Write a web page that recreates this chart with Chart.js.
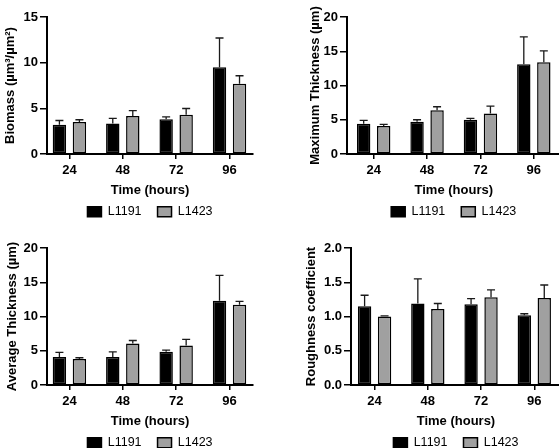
<!DOCTYPE html>
<html>
<head>
<meta charset="utf-8">
<script src="https://cdn.jsdelivr.net/npm/chart.js@4.4.1/dist/chart.umd.min.js"></script>
<style>
  html, body { margin: 0; padding: 0; background: #fff; width: 559px; height: 448px; overflow: hidden; }
  canvas { position: absolute; }
</style>
</head>
<body>
<canvas id="biomass" width="280" height="228" style="left:0;top:0"></canvas>
<canvas id="maxThick" width="300" height="228" style="left:280px;top:0"></canvas>
<canvas id="avgThick" width="280" height="228" style="left:0;top:231px"></canvas>
<canvas id="rough" width="300" height="228" style="left:280px;top:231px"></canvas>
<script>
const hours = ["24", "48", "72", "96"];
const strains = ["L1191", "L1423"];

// values (mean + upper SD)
const biomassL1191 = [3.2, 3.35, 3.8, 9.5];
const biomassL1191Err = [0.47, 0.55, 0.27, 3.2];
const biomassL1423 = [3.5, 4.15, 4.3, 7.7];
const biomassL1423Err = [0.25, 0.6, 0.68, 0.87];

const maxThickL1191 = [4.4, 4.7, 5.0, 13.1];
const maxThickL1191Err = [0.5, 0.3, 0.2, 4.0];
const maxThickL1423 = [4.1, 6.4, 5.9, 13.4];
const maxThickL1423Err = [0.22, 0.5, 1.1, 1.65];

const avgThickL1191 = [4.1, 4.1, 4.85, 12.3];
const avgThickL1191Err = [0.65, 0.75, 0.25, 3.7];
const avgThickL1423 = [3.8, 6.05, 5.75, 11.7];
const avgThickL1423Err = [0.18, 0.45, 0.9, 0.5];

const roughL1191 = [1.15, 1.19, 1.18, 1.02];
const roughL1191Err = [0.16, 0.36, 0.08, 0.02];
const roughL1423 = [1.0, 1.11, 1.28, 1.27];
const roughL1423Err = [0.01, 0.08, 0.11, 0.19];

const FONT = "'Liberation Sans', Arial, sans-serif";
const GREY = "#a0a0a0";

// draws the upper error bar with a cap on every bar
const errorBars = {
  id: "errorBars",
  afterDatasetsDraw(chart) {
    const ctx = chart.ctx;
    const y = chart.scales.y;
    ctx.save();
    ctx.strokeStyle = "#1a1a1a";
    ctx.lineWidth = 1.3;
    chart.data.datasets.forEach((ds, i) => {
      chart.getDatasetMeta(i).data.forEach((bar, j) => {
        const top = y.getPixelForValue(ds.data[j] + ds.errors[j]);
        ctx.beginPath();
        ctx.moveTo(bar.x, bar.y);
        ctx.lineTo(bar.x, top);
        ctx.moveTo(bar.x - 4, top);
        ctx.lineTo(bar.x + 4, top);
        ctx.stroke();
      });
    });
    ctx.restore();
  }
};

function makePanel(id, p) {
  const ctx = document.getElementById(id).getContext("2d");
  return new Chart(ctx, {
    type: "bar",
    data: {
      labels: hours,
      datasets: [{
        label: strains[0],
        data: p.a,
        errors: p.aErr,
        backgroundColor: "#000",
        borderColor: "#000",
        borderWidth: 1.5,
        borderSkipped: false
      }, {
        label: strains[1],
        data: p.b,
        errors: p.bErr,
        backgroundColor: GREY,
        borderColor: "#000",
        borderWidth: 1.5,
        borderSkipped: false
      }]
    },
    options: {
      responsive: false,
      animation: false,
      devicePixelRatio: 1,
      categoryPercentage: 0.75,
      barPercentage: 0.67,
      layout: { padding: { top: 17, right: p.padRight, bottom: 0, left: 0 } },
      plugins: {
        tooltip: { enabled: false },
        legend: {
          position: "bottom",
          fullSize: false,
          labels: {
            boxWidth: 14,
            boxHeight: 10,
            padding: 16,
            color: "#000",
            font: { family: FONT, size: 12.5 }
          }
        }
      },
      scales: {
        x: {
          afterFit: s => { s.height = 35.5; },
          afterBuildTicks: s => { s._startValue = -p.lead; s._valueRange = p.range; },
          grid: { display: true, drawOnChartArea: false, offset: false, tickLength: 5, color: "#000", lineWidth: 1.5 },
          border: { display: true, color: "#000", width: 2 },
          ticks: { color: "#000", padding: 4, maxRotation: 0, font: { family: FONT, size: 13, weight: "bold" } },
          title: {
            display: true,
            text: "Time (hours)",
            color: "#000",
            padding: { top: 0, bottom: -8.5 },
            font: { family: FONT, size: 13, weight: "bold" }
          }
        },
        y: {
          min: 0,
          max: p.max,
          afterFit: s => { s.width = p.yWidth; },
          grid: { display: true, drawOnChartArea: false, tickLength: 7, color: "#000", lineWidth: 1.5 },
          border: { display: true, color: "#000", width: 2 },
          ticks: {
            stepSize: p.step,
            color: "#000",
            padding: 2,
            font: { family: FONT, size: 13, weight: "bold" },
            callback: v => p.decimals ? v.toFixed(p.decimals) : v
          },
          title: {
            display: true,
            text: p.yTitle,
            color: "#000",
            padding: { top: p.titlePad, bottom: 0 },
            font: { family: FONT, size: 13, weight: "bold" }
          }
        }
      }
    },
    plugins: [errorBars]
  });
}

makePanel("biomass", {
  a: biomassL1191, aErr: biomassL1191Err, b: biomassL1423, bErr: biomassL1423Err,
  max: 15, step: 5, yTitle: "Biomass (µm³/µm²)",
  yWidth: 47, padRight: 27, lead: 0.42, range: 3.86, titlePad: 2.2
});
makePanel("maxThick", {
  a: maxThickL1191, aErr: maxThickL1191Err, b: maxThickL1423, bErr: maxThickL1423Err,
  max: 20, step: 5, yTitle: "Maximum Thickness (µm)",
  yWidth: 67, padRight: 19.5, lead: 0.5, range: 4, titlePad: 27.9
});
makePanel("avgThick", {
  a: avgThickL1191, aErr: avgThickL1191Err, b: avgThickL1423, bErr: avgThickL1423Err,
  max: 20, step: 5, yTitle: "Average Thickness (µm)",
  yWidth: 47, padRight: 27, lead: 0.42, range: 3.86, titlePad: 4.2
});
makePanel("rough", {
  a: roughL1191, aErr: roughL1191Err, b: roughL1423, bErr: roughL1423Err,
  max: 2, step: 0.5, decimals: 1, yTitle: "Roughness coefficient",
  yWidth: 71, padRight: 19.1, lead: 0.443, range: 3.943, titlePad: 23.2
});
</script>
</body>
</html>
